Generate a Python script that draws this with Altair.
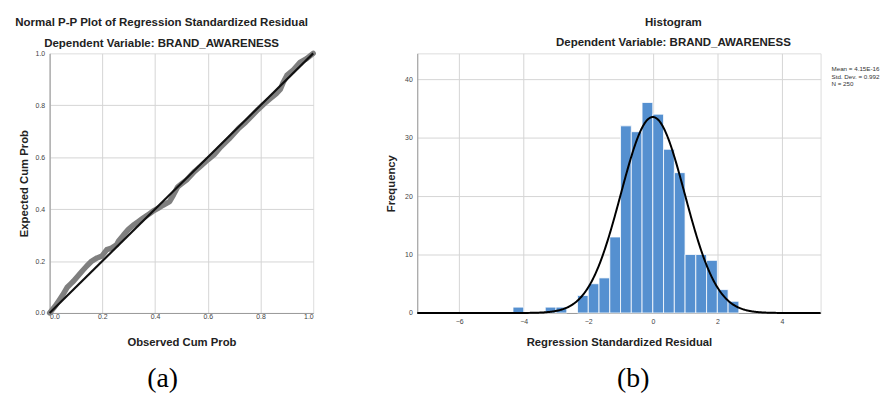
import altair as alt
import pandas as pd

# ---------------- data ----------------
# Normal P-P plot
observed = [0.0, 0.02, 0.035, 0.05, 0.066, 0.08, 0.091, 0.105, 0.123, 0.14, 0.16, 0.18,
            0.198, 0.217, 0.235, 0.254, 0.261, 0.28, 0.298, 0.317, 0.336, 0.355, 0.373,
            0.392, 0.411, 0.43, 0.455, 0.47, 0.486, 0.5, 0.52, 0.55, 0.575, 0.6, 0.624,
            0.65, 0.68, 0.718, 0.743, 0.77, 0.79, 0.812, 0.84, 0.86, 0.875, 0.887, 0.9,
            0.925, 0.95, 0.975, 1.0]
expected = [0.0, 0.025, 0.047, 0.07, 0.098, 0.112, 0.123, 0.14, 0.161, 0.18, 0.2, 0.212,
            0.219, 0.244, 0.25, 0.263, 0.276, 0.3, 0.321, 0.338, 0.352, 0.366, 0.378,
            0.392, 0.403, 0.415, 0.429, 0.455, 0.486, 0.497, 0.513, 0.545, 0.567, 0.59, 0.61,
            0.64, 0.67, 0.712, 0.734, 0.762, 0.783, 0.804, 0.828, 0.845, 0.861, 0.89, 0.915,
            0.937, 0.965, 0.98, 1.0]
diag = [0.0, 1.0]

# Histogram (bins of width 1/3)
bin_start = [-13/3, -10/3, -3.0, -7/3, -2.0, -5/3, -4/3, -1.0, -2/3, -1/3, 0.0, 1/3,
             2/3, 1.0, 4/3, 5/3, 2.0, 7/3]
bin_end = [-4.0, -3.0, -8/3, -2.0, -5/3, -4/3, -1.0, -2/3, -1/3, 0.0, 1/3, 2/3,
           1.0, 4/3, 5/3, 2.0, 7/3, 8/3]
counts = [1, 1, 1, 3, 5, 6, 13, 32, 31, 36, 34, 28, 24, 10, 10, 9, 4, 2]
mean_val = 4.15e-16
sd_val = 0.992
n_val = 250
bin_width = 1 / 3
stats_lines = ["Mean = 4.15E-16", "Std. Dev. = 0.992", "N = 250"]
captions = ["(a)", "(b)"]

FONT = "Liberation Sans"
GRID = "#d4d4d4"
AXC = "#9a9a9a"
TS = 11.6

pp_df = pd.DataFrame({"obs": observed, "exp": expected})
diag_df = pd.DataFrame({"obs": diag, "exp": diag})
hist_df = pd.DataFrame({"start": bin_start, "end": bin_end, "count": counts})

no_edge = {"condition": {"test": "datum.value >= 1", "value": 0}, "value": 1}

def ax(title, values, fmt=None, grid_op=None, tpad=8, lpad=3):
    kw = dict(title=title, values=values, grid=True, gridColor=GRID, ticks=False,
              domainColor=AXC, labelFontSize=7, labelColor="#444", labelFont=FONT,
              titleFont=FONT, titleFontSize=11.4, titleFontWeight="bold", titleColor="#222",
              titlePadding=tpad, labelPadding=lpad)
    if fmt:
        kw["format"] = fmt
    if grid_op is not None:
        kw["gridOpacity"] = grid_op
    return alt.Axis(**kw)

W1, H1 = 266, 262
W2, H2 = 407, 262

xs1 = alt.Scale(domain=[0, 1], nice=False)
ys1 = alt.Scale(domain=[0, 1], nice=False)
xa1 = ax("Observed Cum Prob", [0, 0.2, 0.4, 0.6, 0.8, 1.0], ".1f", no_edge, 17, 0)
ya1 = ax("Expected Cum Prob", [0, 0.2, 0.4, 0.6, 0.8, 1.0], ".1f", no_edge, 6, 5)

pp = alt.Chart(pp_df).mark_line(color="#7f7f7f", strokeWidth=5.5, strokeCap="round",
                                strokeJoin="round").encode(
    x=alt.X("obs:Q", scale=xs1, axis=xa1),
    y=alt.Y("exp:Q", scale=ys1, axis=ya1),
)
dl = alt.Chart(diag_df).mark_line(color="#111", strokeWidth=2.2).encode(
    x=alt.X("obs:Q", scale=xs1), y=alt.Y("exp:Q", scale=ys1)
)
cap_a = alt.Chart(pd.DataFrame({"t": [captions[0]]})).mark_text(
    font="Liberation Serif", fontSize=28, align="center", baseline="alphabetic", color="#000"
).encode(text="t:N", x=alt.value(114), y=alt.value(337))

left = alt.layer(pp, dl, cap_a).properties(
    width=W1, height=H1,
    title=alt.TitleParams(
        text="Normal P-P Plot of Regression Standardized Residual",
        subtitle="Dependent Variable: BRAND_AWARENESS",
        font=FONT, fontSize=TS, fontWeight="bold", color="#222",
        subtitleFont=FONT, subtitleFontSize=TS, subtitleFontWeight="bold",
        subtitleColor="#222", subtitlePadding=10, anchor="middle", frame="group",
        dx=-20, offset=-1,
    ),
)

xs2 = alt.Scale(domain=[-7.3, 5.2], nice=False)
ys2 = alt.Scale(domain=[0, 44.4], nice=False)
xa2 = ax("Regression Standardized Residual", [-6, -4, -2, 0, 2, 4], None, None, 12, 5)
ya2 = ax("Frequency", [0, 10, 20, 30, 40], None, None, 8, 5)

bars = alt.Chart(hist_df).mark_bar(color="#5590D0", stroke="white", strokeWidth=0.8).encode(
    x=alt.X("start:Q", scale=xs2, axis=xa2),
    x2="end:Q",
    y=alt.Y("count:Q", scale=ys2, axis=ya2),
    y2=alt.datum(0),
)
curve = alt.Chart(alt.sequence(-7.3, 5.21, 0.02, as_="x")).transform_calculate(
    y=f"{n_val}*{bin_width}/({sd_val}*sqrt(2*PI))*exp(-0.5*pow((datum.x-({mean_val}))/{sd_val},2))"
).mark_line(color="#000", strokeWidth=2).encode(
    x=alt.X("x:Q", scale=xs2), y=alt.Y("y:Q", scale=ys2)
)
stats = alt.Chart(pd.DataFrame({"a": [0]})).mark_text(
    text=stats_lines, font=FONT, fontSize=6.3, lineHeight=7.5, align="left",
    baseline="top", color="#333"
).encode(x=alt.value(W2 + 11), y=alt.value(13))
cap_b = alt.Chart(pd.DataFrame({"t": [captions[1]]})).mark_text(
    font="Liberation Serif", fontSize=28, align="center", baseline="alphabetic", color="#000"
).encode(text="t:N", x=alt.value(218), y=alt.value(337))

right = alt.layer(bars, curve, stats, cap_b).properties(
    width=W2, height=H2,
    title=alt.TitleParams(
        text="Histogram",
        subtitle="Dependent Variable: BRAND_AWARENESS",
        font=FONT, fontSize=TS, fontWeight="bold", color="#222",
        subtitleFont=FONT, subtitleFontSize=TS, subtitleFontWeight="bold",
        subtitleColor="#222", subtitlePadding=9, anchor="middle", frame="group",
        dx=55, offset=4.5,
    ),
)

chart = alt.hconcat(left, right, spacing=67).properties(
    padding={"left": 6, "top": 6, "right": 5, "bottom": 0}
).configure_view(stroke=None).configure(background="white")

chart.save("out.html", embed_options={"renderer": "svg", "actions": False})
